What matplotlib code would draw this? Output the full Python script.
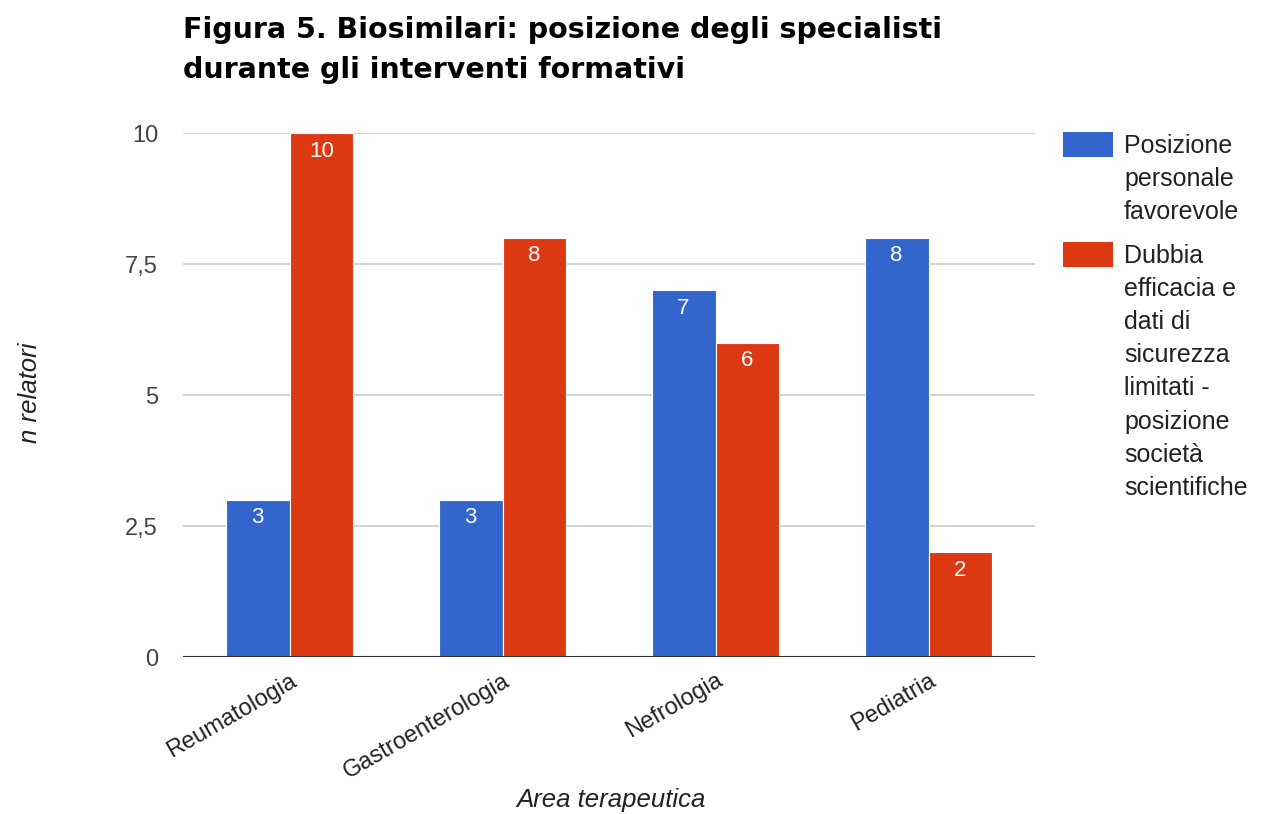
import matplotlib.pyplot as plt
from matplotlib.patches import Rectangle
import numpy as np

areas = ["Reumatologia", "Gastroenterologia", "Nefrologia", "Pediatria"]
favorevole = [3, 3, 7, 8]
dubbia = [10, 8, 6, 2]
series_labels = [
    "Posizione\npersonale\nfavorevole",
    "Dubbia\nefficacia e\ndati di\nsicurezza\nlimitati -\nposizione\nsocietà\nscientifiche",
]
colors = ["#3366cc", "#dc3912"]
yticks = [0, 2.5, 5, 7.5, 10]
ytick_labels = ["0", "2,5", "5", "7,5", "10"]

W, H = 1268, 814
plt.rcParams['font.family'] = ['Liberation Sans', 'DejaVu Sans']

fig = plt.figure(figsize=(W / 100, H / 100), dpi=100)
ax = fig.add_axes([183 / W, 1 - 657 / H, 852 / W, 524 / H])

x = np.arange(len(areas))
bw = 0.3
for vals, off, col in [(favorevole, -bw / 2, colors[0]), (dubbia, bw / 2, colors[1])]:
    bars = ax.bar(x + off, vals, bw, color=col, edgecolor="white", linewidth=0.8, zorder=3)
    for b, v in zip(bars, vals):
        ax.annotate(str(v), (b.get_x() + b.get_width() / 2, v), xytext=(0, -13),
                    textcoords="offset points", ha="center", va="center",
                    color="white", fontsize=16, zorder=4)

ax.set_xlim(-0.5, len(areas) - 0.5)
ax.set_ylim(0, 10)
ax.set_yticks(yticks)
ax.set_yticklabels(ytick_labels, color="#444444", fontsize=17)
ax.yaxis.grid(True, color="#cccccc", linewidth=1.2, zorder=0)
ax.axhline(0, color="#333333", linewidth=1.5, zorder=5)
ax.set_xticks(x)
ax.set_xticklabels(areas, rotation=30, ha="right", va="top", rotation_mode="anchor",
                   color="#222222", fontsize=17)
ax.tick_params(axis="both", length=0)
ax.tick_params(axis="y", pad=18)
ax.tick_params(axis="x", pad=9)
for s in ax.spines.values():
    s.set_visible(False)

# title
title_font = dict(fontsize=20.5, fontweight="bold", va="baseline", ha="left",
                  family=["DejaVu Sans"])
fig.text(183 / W, 1 - 38 / H, "Figura 5. Biosimilari: posizione degli specialisti", **title_font)
fig.text(183 / W, 1 - 78 / H, "durante gli interventi formativi", **title_font)

# axis titles
fig.text(30 / W, 1 - 393 / H, "n relatori", rotation=90, style="italic",
         color="#222222", fontsize=18.5, ha="center", va="center")
fig.text(611 / W, 1 - 800 / H, "Area terapeutica", style="italic",
         color="#222222", fontsize=18.5, ha="center", va="center")

# legend
leg_tops = [132, 242]
for lab, col, top in zip(series_labels, colors, leg_tops):
    fig.add_artist(Rectangle((1063 / W, 1 - (top + 25) / H), 50 / W, 25 / H,
                             facecolor=col, edgecolor="none", transform=fig.transFigure))
    fig.text(1124 / W, 1 - (top + 2) / H, lab, fontsize=18, color="#222222",
             ha="left", va="top", linespacing=1.48)

fig.savefig("out.png", dpi=100)
